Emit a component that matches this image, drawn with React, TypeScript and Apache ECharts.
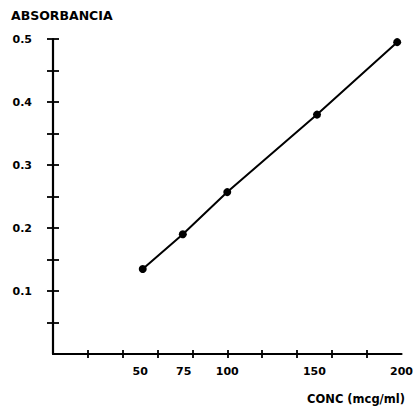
import React, { useEffect, useRef } from "react";
import * as echarts from "echarts";

const concentrations = [51.5, 74.5, 100, 151.5, 197.5];
const absorbances = [0.135, 0.19, 0.257, 0.38, 0.495];
const xTicks = [20, 40, 60, 80, 100, 120, 140, 160, 180];
const xLabels = [50, 75, 100, 150, 200];
const yTicks = [0.05, 0.1, 0.15, 0.2, 0.25, 0.3, 0.35, 0.4, 0.45, 0.5];
const yLabels = [0.1, 0.2, 0.3, 0.4, 0.5];
const yTitle = "ABSORBANCIA";
const xTitle = "CONC (mcg/ml)";

const FONT = "'DejaVu Sans', 'Liberation Sans', Arial, sans-serif";

export default function App() {
  const ref = useRef<HTMLDivElement>(null);
  useEffect(() => {
    if (!ref.current) return;
    const chart = echarts.init(ref.current, undefined, { renderer: "svg" });
    const tickStyle = { color: "#000", width: 1.8 };
    chart.setOption({
      animation: false,
      backgroundColor: "#fff",
      grid: { left: 53, right: 14, top: 39, bottom: 59, containLabel: false },
      title: {
        text: yTitle,
        left: 6,
        top: 4,
        textStyle: { fontFamily: FONT, fontSize: 12.5, fontWeight: "bold", color: "#000" },
      },
      graphic: [
        {
          type: "text",
          right: 11,
          top: 393,
          style: {
            text: xTitle,
            font: `bold 11.5px ${FONT}`,
            fill: "#000",
          },
        },
      ],
      xAxis: [
        {
          type: "value",
          min: 0,
          max: 200,
          position: "bottom",
          axisLine: { show: true, lineStyle: { color: "#000", width: 2.2 } },
          axisTick: { show: true, customValues: xTicks, length: 4, lineStyle: tickStyle },
          axisLabel: {
            show: true,
            customValues: xLabels,
            margin: 12,
            fontFamily: FONT,
            fontSize: 11,
            fontWeight: "bold",
            color: "#000",
          },
          splitLine: { show: false },
        },
        {
          type: "value",
          min: 0,
          max: 200,
          position: "bottom",
          offset: 0,
          axisLine: { show: false },
          axisTick: { show: true, inside: true, customValues: xTicks, length: 4, lineStyle: tickStyle },
          axisLabel: { show: false },
          splitLine: { show: false },
        },
      ],
      yAxis: [
        {
          type: "value",
          min: 0,
          max: 0.5,
          position: "left",
          axisLine: { show: true, lineStyle: { color: "#000", width: 2.2 } },
          axisTick: { show: true, customValues: yTicks, length: 6, lineStyle: tickStyle },
          axisLabel: {
            show: true,
            customValues: yLabels,
            formatter: (v: number) => v.toFixed(1),
            margin: 21,
            fontFamily: FONT,
            fontSize: 11,
            fontWeight: "bold",
            color: "#000",
          },
          splitLine: { show: false },
        },
        {
          type: "value",
          min: 0,
          max: 0.5,
          position: "left",
          offset: 0,
          axisLine: { show: false },
          axisTick: { show: true, inside: true, customValues: yTicks, length: 6, lineStyle: tickStyle },
          axisLabel: { show: false },
          splitLine: { show: false },
        },
      ],
      series: [
        {
          type: "line",
          xAxisIndex: 0,
          yAxisIndex: 0,
          data: concentrations.map((c, i) => [c, absorbances[i]]),
          symbol: "circle",
          symbolSize: 8,
          itemStyle: { color: "#000" },
          lineStyle: { color: "#000", width: 2 },
        },
      ],
    });
    return () => chart.dispose();
  }, []);
  return (
    <div
      ref={ref}
      style={{ position: "fixed", left: 0, top: 0, width: 416, height: 413, background: "#fff" }}
    />
  );
}
